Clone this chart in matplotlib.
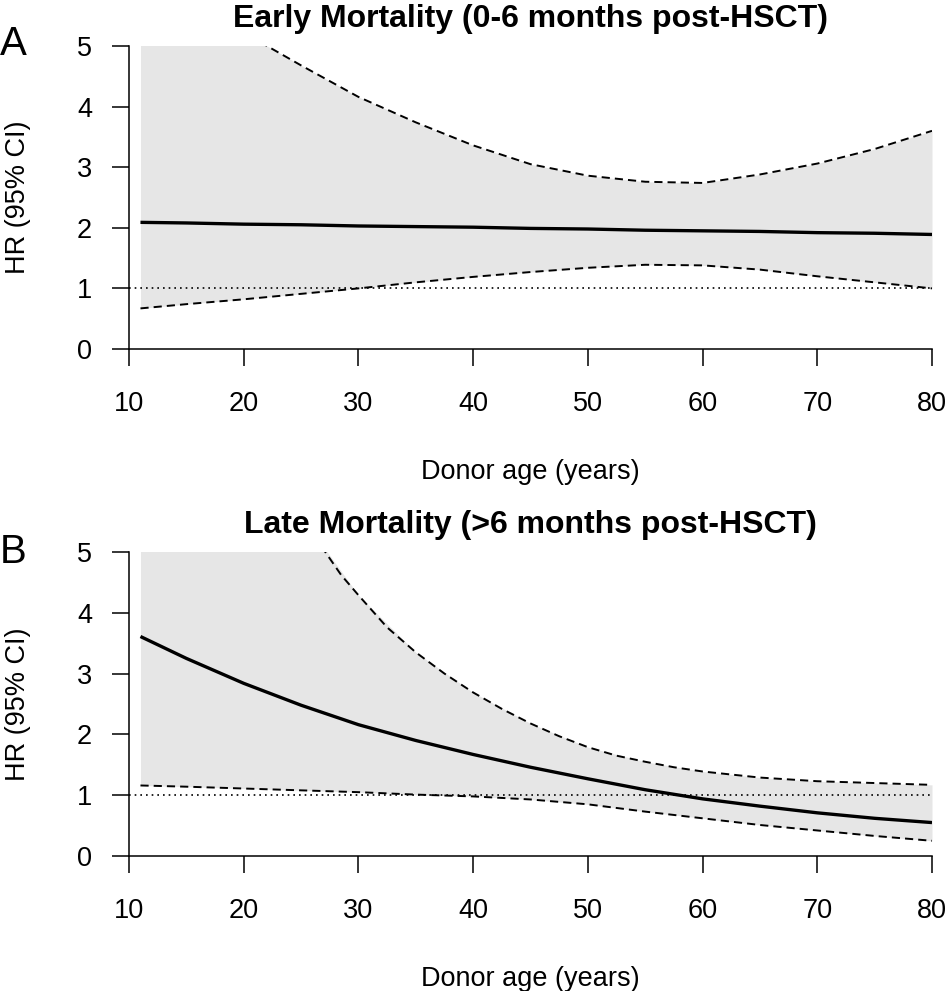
import numpy as np
import matplotlib
matplotlib.use('Agg')
import matplotlib.pyplot as plt

plt.rcParams['font.family'] = ['Liberation Sans', 'DejaVu Sans']

# donor age grid (years)
age = [11, 15, 20, 25, 30, 35, 40, 45, 50, 55, 60, 65, 70, 75, 80]

# A: early mortality
early_hr = [2.09, 2.08, 2.06, 2.05, 2.03, 2.02, 2.01, 1.99, 1.98, 1.96, 1.95, 1.94, 1.92, 1.91, 1.89]
early_hi = [6.4, 5.85, 5.22, 4.68, 4.16, 3.74, 3.36, 3.05, 2.86, 2.76, 2.74, 2.88, 3.06, 3.3, 3.6]
early_lo = [0.67, 0.74, 0.82, 0.91, 1.0, 1.1, 1.19, 1.27, 1.34, 1.39, 1.38, 1.31, 1.2, 1.1, 1.0]

# B: late mortality
late_hr = [3.61, 3.25, 2.84, 2.48, 2.16, 1.9, 1.67, 1.46, 1.27, 1.09, 0.94, 0.82, 0.71, 0.62, 0.55]
late_lo = [1.16, 1.14, 1.11, 1.08, 1.05, 1.01, 0.98, 0.93, 0.85, 0.73, 0.62, 0.51, 0.42, 0.33, 0.25]
# upper bound read on a finer grid (steep part)
late_hi_age = [11, 15, 20, 25, 27, 28.5, 30, 32.5, 35, 37.5, 40, 42.5, 45, 47.5,
               50, 52.5, 55, 57.5, 60, 65, 70, 75, 80]
late_hi = [13.0, 10.2, 7.6, 5.6, 5.03, 4.62, 4.29, 3.76, 3.35, 3.0, 2.69, 2.42, 2.18, 1.97,
           1.79, 1.65, 1.55, 1.46, 1.39, 1.29, 1.23, 1.2, 1.17]

titles = ['Early Mortality (0-6 months post-HSCT)', 'Late Mortality (>6 months post-HSCT)']
letters = ['A', 'B']
xticks = [10, 20, 30, 40, 50, 60, 70, 80]
yticks = [0, 1, 2, 3, 4, 5]

W, H = 947, 991
fig = plt.figure(figsize=(W / 100, H / 100), dpi=100)

# axes boxes in pixels: (left, top, right, bottom)
boxes = [(129, 46, 932, 349), (129, 552, 932, 856)]
letter_base = [55, 563]

panels = [
    (age, early_hr, age, early_hi, early_lo),
    (age, late_hr, late_hi_age, late_hi, late_lo),
]

dash = (4.2, 2.6)

for i, (x, hr, xhi, hi, lo) in enumerate(panels):
    l, t, r, b = boxes[i]
    ax = fig.add_axes([l / W, 1 - b / H, (r - l) / W, (b - t) / H])

    # shaded band: upper bound put on the common grid for the fill
    hi_on_grid = np.interp(x, xhi, hi)
    ax.fill_between(x, lo, hi_on_grid, color='#e6e6e6', lw=0)
    ax.axhline(1, color='black', lw=1.2, dashes=(1, 2.4))
    ax.plot(xhi, hi, color='black', lw=1.4, dashes=dash)
    ax.plot(x, lo, color='black', lw=1.4, dashes=dash)
    ax.plot(x, hr, color='black', lw=2.4, solid_capstyle='butt')

    ax.set_xlim(10, 80)
    ax.set_ylim(0, 5)
    ax.set_xticks(xticks)
    ax.set_yticks(yticks)
    ax.tick_params(direction='out', length=12.5, width=1.1, labelsize=19.5, pad=14)
    ax.tick_params(axis='x', pad=18)
    for s in ['top', 'right']:
        ax.spines[s].set_visible(False)
    for s in ['left', 'bottom']:
        ax.spines[s].set_linewidth(1.1)

    ax.set_title(titles[i], fontsize=23, fontweight='bold', pad=14)
    ax.set_xlabel('Donor age (years)', fontsize=19.5, labelpad=30)
    ax.set_ylabel('HR (95% CI)', fontsize=19.5, labelpad=33)
    fig.text(0.0, 1 - letter_base[i] / H, letters[i], fontsize=29, va='baseline', ha='left')

fig.savefig('out.png', dpi=100)
